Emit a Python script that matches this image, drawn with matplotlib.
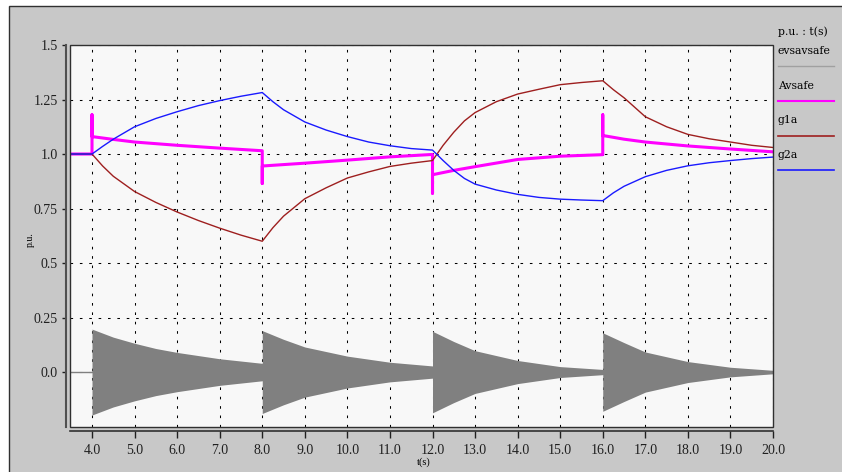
import matplotlib
matplotlib.use("Agg")
import matplotlib.pyplot as plt
from matplotlib.patches import Rectangle
from matplotlib.lines import Line2D

# ---------------- data ----------------
t_g = [3.5, 4.0, 4.25, 4.5, 5.0, 5.5, 6.0, 6.5, 7.0, 7.5, 8.0,
       8.25, 8.5, 9.0, 9.5, 10.0, 10.5, 11.0, 11.5, 12.0,
       12.25, 12.5, 12.75, 13.0, 13.5, 14.0, 14.5, 15.0, 15.5, 16.0,
       16.25, 16.5, 17.0, 17.5, 18.0, 18.5, 19.0, 19.5, 20.0]
g2a = [1.0, 1.0, 1.035, 1.068, 1.125, 1.163, 1.194, 1.222, 1.245, 1.265, 1.282,
       1.240, 1.203, 1.147, 1.110, 1.080, 1.055, 1.038, 1.025, 1.018,
       0.970, 0.925, 0.888, 0.862, 0.835, 0.815, 0.801, 0.793, 0.789, 0.786,
       0.822, 0.852, 0.896, 0.925, 0.946, 0.960, 0.970, 0.979, 0.986]
g1a = [1.0, 1.0, 0.945, 0.898, 0.828, 0.778, 0.734, 0.695, 0.660, 0.628, 0.600,
       0.662, 0.715, 0.795, 0.845, 0.890, 0.918, 0.943, 0.958, 0.970,
       1.040, 1.100, 1.152, 1.190, 1.240, 1.275, 1.297, 1.318, 1.328, 1.336,
       1.295, 1.258, 1.171, 1.125, 1.090, 1.070, 1.055, 1.040, 1.030]

t_av = [3.5, 4.0, 4.0, 4.0, 4.5, 5.0, 6.0, 7.0, 8.0, 8.0, 8.0, 9.0, 10.0, 11.0,
        12.0, 12.0, 12.0, 12.5, 13.0, 14.0, 15.0, 16.0, 16.0, 16.0, 16.5, 17.0, 18.0, 19.0, 20.0]
avsafe = [1.0, 1.0, 1.18, 1.08, 1.067, 1.055, 1.04, 1.027, 1.015, 0.865, 0.945, 0.958, 0.972, 0.987,
          0.998, 0.82, 0.905, 0.925, 0.942, 0.975, 0.99, 0.997, 1.18, 1.085, 1.068, 1.055, 1.037, 1.023, 1.01]

t_ev_pre = [3.5, 4.0]
ev_pre = [0.0, 0.0]
t_env = [4.0, 4.5, 5.0, 5.5, 6.0, 7.0, 8.0,
         8.0, 8.5, 9.0, 10.0, 11.0, 12.0,
         12.0, 12.5, 13.0, 14.0, 15.0, 16.0,
         16.0, 16.5, 17.0, 18.0, 19.0, 20.0]
ev_env = [0.197, 0.160, 0.132, 0.108, 0.090, 0.061, 0.040,
          0.190, 0.150, 0.115, 0.073, 0.045, 0.028,
          0.187, 0.140, 0.098, 0.053, 0.025, 0.012,
          0.180, 0.135, 0.092, 0.048, 0.022, 0.008]

x_ticks = [4.0, 5.0, 6.0, 7.0, 8.0, 9.0, 10.0, 11.0, 12.0, 13.0, 14.0, 15.0, 16.0, 17.0, 18.0, 19.0, 20.0]
x_tick_labels = ["4.0", "5.0", "6.0", "7.0", "8.0", "9.0", "10.0", "11.0", "12.0",
                 "13.0", "14.0", "15.0", "16.0", "17.0", "18.0", "19.0", "20.0"]
y_ticks = [0.0, 0.25, 0.5, 0.75, 1.0, 1.25, 1.5]
y_tick_labels = ["0.0", "0.25", "0.5", "0.75", "1.0", "1.25", "1.5"]

legend_names = ["evsavsafe", "Avsafe", "g1a", "g2a"]

# ---------------- style ----------------
W, H = 842, 472
FONT = "Liberation Serif"
LFONT = "DejaVu Serif"
FS = 7.5
c_ev = "#808080"
c_av = "#ff00ff"
c_g1 = "#9e1f1f"
c_g2 = "#1a1aff"

plt.rcParams["font.family"] = [FONT, "DejaVu Sans"]

fig = plt.figure(figsize=(W / 100, H / 100), dpi=100)
fig.patch.set_facecolor("white")

def fx(px):
    return px / W

def fy(py):
    return 1 - py / H

# outer gray panel
fig.patches.append(Rectangle((fx(9), -0.01), 1 - fx(9) + 0.01, fy(6) + 0.01, transform=fig.transFigure,
                             facecolor="#c8c8c8", edgecolor="#303030", lw=1.0, zorder=-10))

ax = fig.add_axes([fx(70), fy(427), fx(773) - fx(70), fy(45) - fy(427)])
ax.set_facecolor("#f8f8f8")
ax.set_xlim(3.483, 20.0)
ax.set_ylim(-0.252, 1.5)

# data
ax.plot(t_ev_pre, ev_pre, color=c_ev, lw=1.0, zorder=3)
ax.fill_between(t_env, [-v for v in ev_env], ev_env, color=c_ev, lw=0, zorder=3)
ax.plot(t_av, avsafe, color=c_av, lw=2.2, zorder=4)
ax.plot(t_g, g1a, color=c_g1, lw=1.0, zorder=5)
ax.plot(t_g, g2a, color=c_g2, lw=1.0, zorder=5)

# grid
ax.set_xticks(x_ticks)
ax.set_xticklabels(x_tick_labels, fontsize=FS, family=FONT)
ax.set_yticks(y_ticks)
ax.set_yticklabels(y_tick_labels, fontsize=FS, family=FONT)
ax.grid(True, color="black", linestyle=(0, (2.5, 6.5)), lw=0.75)
ax.set_axisbelow(True)

for s in ["top", "right"]:
    ax.spines[s].set_visible(False)
ax.spines["left"].set_position(("outward", 3))
ax.spines["bottom"].set_position(("outward", 3))
ax.spines["left"].set_color("#505050")
ax.spines["bottom"].set_color("#303030")
ax.spines["left"].set_linewidth(1.5)
ax.spines["bottom"].set_linewidth(1.2)
ax.tick_params(axis="x", direction="out", length=5, width=1, pad=4, colors="#202020")
ax.tick_params(axis="y", direction="out", length=3, width=1, pad=3, colors="#202020")

# plot box border
ax.add_patch(Rectangle((0, 0), 1, 1, transform=ax.transAxes, fill=False,
                       edgecolor="#303030", lw=1.0, clip_on=False, zorder=6))

fig.text(fx(424), fy(462), "t(s)", fontsize=FS, family=FONT, va="center", ha="center")
fig.text(fx(30), fy(240), "p.u.", fontsize=FS - 0.5, family=FONT, rotation=90,
         va="center", ha="center")

# right side legend
LFS = 7.8
fig.text(fx(778), fy(32), "p.u. : t(s)", fontsize=LFS, family=LFONT, va="center", ha="left")
leg_colors = [c_ev, c_av, c_g1, c_g2]
leg_lw = [1.0, 1.5, 1.2, 1.2]
text_y = [51, 86, 120, 155]
line_y = [66, 101, 136, 170]
for name, col, lw, ty, ly in zip(legend_names, leg_colors, leg_lw, text_y, line_y):
    fig.text(fx(778), fy(ty), name, fontsize=LFS, family=LFONT, va="center", ha="left")
    fig.lines.append(Line2D([fx(778), fx(834)], [fy(ly), fy(ly)], transform=fig.transFigure,
                            color=("#a0a0a0" if col == c_ev else col), lw=lw))

fig.savefig("out.png", dpi=100)
